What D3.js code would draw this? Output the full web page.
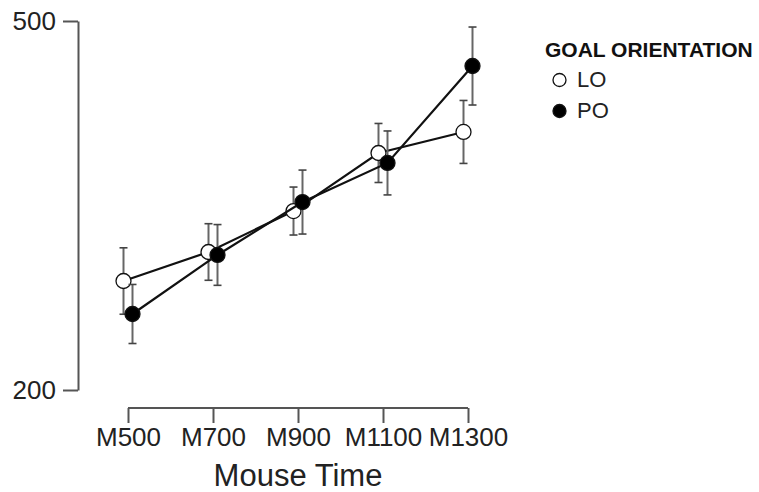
<!DOCTYPE html>
<html>
<head>
<meta charset="utf-8">
<script src="https://cdn.jsdelivr.net/npm/d3@7/dist/d3.min.js"></script>
<style>
  body { margin: 0; background: #fff; }
  svg { display: block; font-family: "Liberation Sans", Arial, sans-serif; }
</style>
</head>
<body>
<svg id="chart" width="759" height="492"></svg>
<script>
const categories = ["M500", "M700", "M900", "M1100", "M1300"];
const seriesNames = ["LO", "PO"];
const loMean = [288.6, 312.2, 345.5, 392.7, 409.8];
const loErr  = [27.0, 23.0, 19.5, 24.0, 25.6];
const poMean = [261.8, 309.8, 352.8, 384.6, 463.4];
const poErr  = [24.0, 24.7, 26.0, 26.0, 31.7];
const yTicks = [200, 500];
const legendTitle = "GOAL ORIENTATION";
const xTitle = "Mouse Time";

const svg = d3.select("#chart");
const x = d3.scalePoint().domain(categories).range([128, 468]);
const y = d3.scaleLinear().domain([200, 500]).range([390, 21]);
const dodge = 4.5;
const axisColor = "#555";

// Y axis
const yAxis = svg.append("g").attr("transform", "translate(78,0)")
  .call(d3.axisLeft(y).tickValues(yTicks).tickSize(15).tickSizeOuter(0).tickPadding(7));
yAxis.select(".domain").attr("stroke", axisColor).attr("stroke-width", 2);
yAxis.selectAll(".tick line").attr("stroke", axisColor).attr("stroke-width", 2);
yAxis.selectAll(".tick text").attr("font-size", 26).attr("fill", "#222")
  .attr("font-family", "Liberation Sans, Arial, sans-serif");

// X axis
const xAxis = svg.append("g").attr("transform", "translate(0,408)")
  .call(d3.axisBottom(x).tickSize(15).tickSizeOuter(0).tickPadding(5));
xAxis.select(".domain").attr("stroke", axisColor).attr("stroke-width", 2)
  .attr("d", `M${x(categories[0])},0H${x(categories[categories.length-1])}`);
xAxis.selectAll(".tick line").attr("stroke", axisColor).attr("stroke-width", 2);
xAxis.selectAll(".tick text").attr("font-size", 26).attr("fill", "#222")
  .attr("font-family", "Liberation Sans, Arial, sans-serif");

svg.append("text").attr("x", 298).attr("y", 486).attr("text-anchor", "middle")
  .attr("font-size", 31).attr("fill", "#222").text(xTitle);

const series = [
  { name: seriesNames[0], mean: loMean, err: loErr, fill: "#fff", off: -dodge },
  { name: seriesNames[1], mean: poMean, err: poErr, fill: "#000", off: dodge }
];

series.forEach(s => {
  const pts = categories.map((c, i) => ({ x: x(c) + s.off, m: s.mean[i], e: s.err[i] }));
  const g = svg.append("g");
  g.append("path").datum(pts)
    .attr("d", d3.line().x(d => d.x).y(d => y(d.m)))
    .attr("fill", "none").attr("stroke", "#111").attr("stroke-width", 2.2);
  const eb = g.selectAll(".eb").data(pts).enter().append("g");
  eb.append("line").attr("x1", d => d.x).attr("x2", d => d.x)
    .attr("y1", d => y(d.m - d.e)).attr("y2", d => y(d.m + d.e))
    .attr("stroke", "#666").attr("stroke-width", 2);
  [1, -1].forEach(sg => {
    eb.append("line").attr("x1", d => d.x - 4).attr("x2", d => d.x + 4)
      .attr("y1", d => y(d.m + sg * d.e)).attr("y2", d => y(d.m + sg * d.e))
      .attr("stroke", "#444").attr("stroke-width", 1.6);
  });
  g.selectAll(".pt").data(pts).enter().append("circle")
    .attr("cx", d => d.x).attr("cy", d => y(d.m)).attr("r", 7.5)
    .attr("fill", s.fill).attr("stroke", "#111").attr("stroke-width", 1.3);
});

// Legend
const lg = svg.append("g");
lg.append("text").attr("x", 545).attr("y", 57).attr("font-size", 21)
  .attr("font-weight", "bold").attr("fill", "#111").text(legendTitle);
series.forEach((s, i) => {
  const cy = 80 + i * 31;
  lg.append("circle").attr("cx", 559.5).attr("cy", cy).attr("r", 6.5)
    .attr("fill", s.fill).attr("stroke", "#111").attr("stroke-width", 1.3);
  lg.append("text").attr("x", 577).attr("y", cy + 7).attr("font-size", 22)
    .attr("fill", "#222").text(s.name);
});
</script>
</body>
</html>
